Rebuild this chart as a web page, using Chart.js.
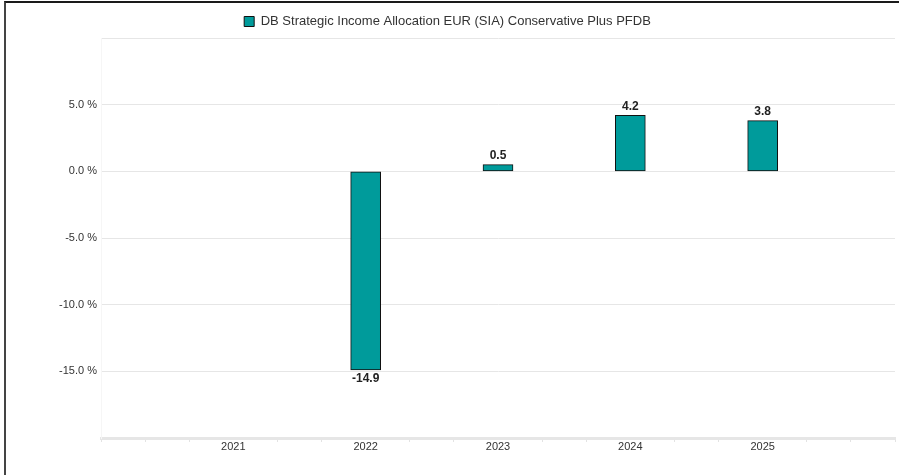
<!DOCTYPE html>
<html>
<head>
<meta charset="utf-8">
<script src="https://cdn.jsdelivr.net/npm/chart.js@4.4.1/dist/chart.umd.min.js"></script>
<style>
  body { margin: 0; background: #fff; }
  #wrap { position: relative; width: 899px; height: 475px; }
  #frame { position: absolute; left: 4px; top: 1px; right: 0; bottom: 0; border-left: 2px solid #444; border-top: 2px solid #1a1a1a; pointer-events: none; }
</style>
</head>
<body>
<div id="wrap">
  <canvas id="perfChart" width="899" height="475"></canvas>
  <div id="frame"></div>
</div>
<script>
const seriesName = "DB Strategic Income Allocation EUR (SIA) Conservative Plus PFDB";
const years = [2022, 2023, 2024, 2025];
const returns = [-14.9, 0.5, 4.2, 3.8];
const yearLabels = [2021, 2022, 2023, 2024, 2025];
const baseYear = 2020;

// x axis runs in months from 2020 to 2026, a tick every 4 months
const points = years.map((y, i) => ({ x: (y - baseYear) * 12, y: returns[i] }));

const labelPlugin = {
  id: 'barValues',
  afterDatasetsDraw(chart) {
    const ctx = chart.ctx;
    const meta = chart.getDatasetMeta(0);
    ctx.save();
    ctx.font = 'bold 12px "Liberation Sans", Arial, sans-serif';
    ctx.fillStyle = '#222';
    ctx.textAlign = 'center';
    meta.data.forEach((bar, i) => {
      const v = returns[i];
      if (v >= 0) {
        ctx.textBaseline = 'bottom';
        ctx.fillText(v.toFixed(1), bar.x, bar.y - 3);
      } else {
        ctx.textBaseline = 'top';
        ctx.fillText(v.toFixed(1), bar.x, bar.y + 3);
      }
    });
    ctx.restore();
  }
};

const isYearTick = v => v % 12 === 0 && yearLabels.includes(baseYear + v / 12);

new Chart(document.getElementById('perfChart'), {
  type: 'bar',
  data: {
    datasets: [{
      label: seriesName,
      data: points,
      backgroundColor: '#009b9b',
      borderColor: '#111',
      borderWidth: 1,
      borderSkipped: false,
      barThickness: 30
    }]
  },
  options: {
    responsive: false,
    animation: false,
    layout: { padding: { top: 5, right: 4, left: 0, bottom: 0 } },
    plugins: {
      legend: {
        position: 'top',
        labels: {
          boxWidth: 10,
          boxHeight: 10,
          padding: 10,
          color: '#333',
          font: { size: 13, family: '"Liberation Sans", Arial, sans-serif' }
        }
      },
      tooltip: { enabled: false }
    },
    scales: {
      x: {
        type: 'linear',
        min: 0,
        max: 72,
        offset: false,
        grid: {
          offset: false,
          drawOnChartArea: false,
          drawTicks: true,
          tickLength: 4,
          color: ctx => (ctx.tick && isYearTick(ctx.tick.value)) ? 'rgba(0,0,0,0)' : '#e3e3e3'
        },
        border: { color: '#e6e6e6', width: 3 },
        ticks: {
          stepSize: 4,
          autoSkip: false,
          maxRotation: 0,
          padding: -2,
          color: '#333',
          font: { size: 11, family: '"Liberation Sans", Arial, sans-serif' },
          callback: v => isYearTick(v) ? String(baseYear + v / 12) : ''
        },
        afterFit: s => { s.height = 37; }
      },
      y: {
        min: -20,
        max: 10,
        grid: { color: '#e6e6e6', drawTicks: false },
        border: { color: '#f6f6f6' },
        ticks: {
          stepSize: 5,
          padding: 4,
          color: '#333',
          font: { size: 11, family: '"Liberation Sans", Arial, sans-serif' },
          callback: v => (v > -20 && v < 10) ? v.toFixed(1) + ' %' : ''
        },
        afterFit: s => { s.width = 101; }
      }
    }
  },
  plugins: [labelPlugin]
});
</script>
</body>
</html>
